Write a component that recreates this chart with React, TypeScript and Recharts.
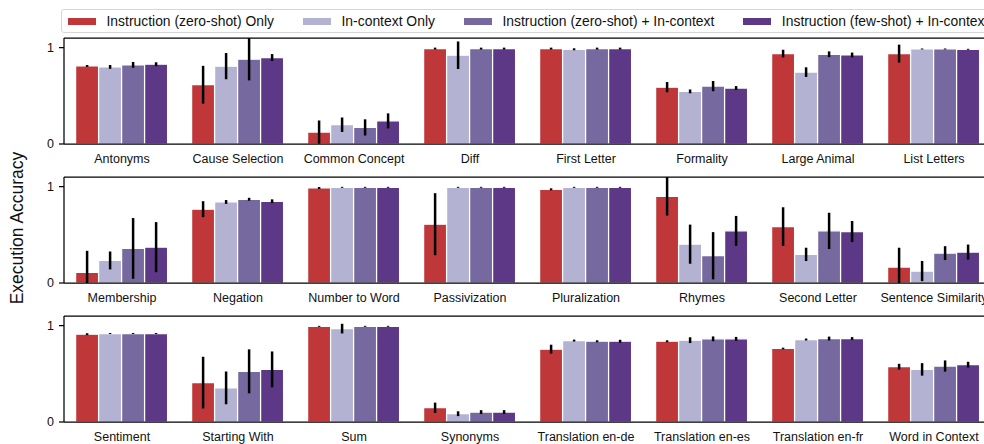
import React from "react";
import { BarChart, Bar, XAxis, YAxis, ErrorBar, ReferenceLine } from "recharts";

const tasks = [
  "Antonyms", "Cause Selection", "Common Concept", "Diff", "First Letter", "Formality", "Large Animal", "List Letters",
  "Membership", "Negation", "Number to Word", "Passivization", "Pluralization", "Rhymes", "Second Letter", "Sentence Similarity",
  "Sentiment", "Starting With", "Sum", "Synonyms", "Translation en-de", "Translation en-es", "Translation en-fr", "Word in Context",
];

const seriesNames = [
  "Instruction (zero-shot) Only",
  "In-context Only",
  "Instruction (zero-shot) + In-context",
  "Instruction (few-shot) + In-context",
];
const seriesColors = ["#C0373A", "#B3B2D3", "#76699F", "#5D3886"];

const instrOnly = [0.81, 0.615, 0.124, 0.99, 0.99, 0.59, 0.938, 0.938, 0.11, 0.766, 0.986, 0.61, 0.972, 0.9, 0.586, 0.166, 0.911, 0.409, 0.993, 0.148, 0.756, 0.838, 0.763, 0.574];
const instrOnlyErr = [0.01, 0.196, 0.12, 0.01, 0.01, 0.053, 0.04, 0.093, 0.224, 0.083, 0.01, 0.322, 0.01, 0.2, 0.2, 0.2, 0.01, 0.268, 0.005, 0.053, 0.046, 0.01, 0.008, 0.03];
const icOnly = [0.8, 0.808, 0.2, 0.921, 0.983, 0.546, 0.746, 0.986, 0.234, 0.841, 0.993, 0.993, 0.993, 0.403, 0.297, 0.124, 0.918, 0.354, 0.969, 0.086, 0.845, 0.849, 0.856, 0.546];
const icOnlyErr = [0.02, 0.136, 0.075, 0.143, 0.01, 0.02, 0.05, 0.005, 0.093, 0.02, 0.005, 0.005, 0.005, 0.203, 0.069, 0.105, 0.005, 0.17, 0.05, 0.025, 0.01, 0.03, 0.01, 0.065];
const zeroIc = [0.821, 0.88, 0.172, 0.99, 0.99, 0.601, 0.931, 0.986, 0.359, 0.869, 0.993, 0.993, 0.993, 0.283, 0.541, 0.31, 0.918, 0.526, 0.993, 0.103, 0.838, 0.863, 0.866, 0.581];
const zeroIcErr = [0.03, 0.22, 0.084, 0.01, 0.01, 0.053, 0.03, 0.005, 0.315, 0.015, 0.005, 0.005, 0.005, 0.245, 0.188, 0.072, 0.005, 0.228, 0.005, 0.02, 0.01, 0.025, 0.02, 0.058];
const fewIc = [0.828, 0.897, 0.24, 0.99, 0.99, 0.581, 0.924, 0.983, 0.372, 0.848, 0.993, 0.993, 0.993, 0.541, 0.534, 0.321, 0.918, 0.546, 0.993, 0.103, 0.838, 0.863, 0.866, 0.595];
const fewIcErr = [0.02, 0.036, 0.078, 0.01, 0.01, 0.02, 0.025, 0.005, 0.26, 0.02, 0.005, 0.005, 0.005, 0.155, 0.109, 0.078, 0.005, 0.186, 0.005, 0.02, 0.015, 0.02, 0.015, 0.03];

const yTicks = [0, 1];
const yDomain = [0, 1.1];
const yMax = 1.1;

const means = [instrOnly, icOnly, zeroIc, fewIc];
const errs = [instrOnlyErr, icOnlyErr, zeroIcErr, fewIcErr];

// error bars are clipped to the axis range, like the plot's own clipping
const allData = tasks.map((t, i) => {
  const row: any = { task: t };
  means.forEach((m, s) => {
    const v = m[i];
    const e = errs[s][i];
    row["s" + s] = v;
    row["e" + s] = [Math.min(e, v), Math.min(e, yMax - v)];
  });
  return row;
});

const rows = [allData.slice(0, 8), allData.slice(8, 16), allData.slice(16, 24)];
const rowTops = [36, 175, 314];

const FONT = "Arial, 'Liberation Sans', Helvetica, sans-serif";

function Row({ data, top }: { data: any[]; top: number }) {
  return (
    <div style={{ position: "absolute", left: 0, top }}>
      <BarChart
        width={1000}
        height={138}
        data={data}
        margin={{ top: 2, right: 8, left: 0, bottom: 0 }}
        barCategoryGap="10%"
        barGap={0}
      >
        <XAxis
          dataKey="task"
          tickLine={false}
          tickSize={0}
          tickMargin={10}
          height={30}
          axisLine={{ stroke: "#000", strokeWidth: 1.25 }}
          tick={{ fill: "#111", fontSize: 12.5, fontFamily: FONT }}
          interval={0}
        />
        <YAxis
          width={64}
          domain={yDomain}
          ticks={yTicks}
          allowDataOverflow
          tickSize={5}
          tickMargin={5}
          tickLine={{ stroke: "#000", strokeWidth: 1.25 }}
          axisLine={{ stroke: "#000", strokeWidth: 1.25 }}
          tick={{ fill: "#111", fontSize: 12.5, fontFamily: FONT }}
        />
        <ReferenceLine y={1.1} stroke="#000" strokeWidth={1.25} />
        {seriesNames.map((name, s) => (
          <Bar
            key={name}
            dataKey={"s" + s}
            name={name}
            fill={seriesColors[s]}
            stroke="#fff"
            strokeWidth={1.25}
            isAnimationActive={false}
          >
            <ErrorBar dataKey={"e" + s} width={0} stroke="#000" strokeWidth={2.5} direction="y" />
          </Bar>
        ))}
      </BarChart>
    </div>
  );
}

export default function App() {
  return (
    <div
      style={{
        position: "fixed",
        left: 0,
        top: 0,
        width: 984,
        height: 444,
        overflow: "hidden",
        background: "#fff",
        fontFamily: FONT,
      }}
    >
      {rows.map((d, i) => (
        <Row key={i} data={d} top={rowTops[i]} />
      ))}
      <div
        style={{
          position: "absolute",
          left: 61,
          top: 9,
          width: 1000,
          height: 24,
          border: "1px solid #d6d6d6",
          borderRadius: 3,
          background: "#fff",
          display: "flex",
          alignItems: "center",
          boxSizing: "border-box",
          paddingLeft: 6,
        }}
      >
        {seriesNames.map((n, s) => (
          <div key={n} style={{ display: "flex", alignItems: "center", marginRight: 29 }}>
            <div style={{ width: 28, height: 7, background: seriesColors[s], marginRight: 10.5 }} />
            <span style={{ fontSize: 13.9, color: "#111", whiteSpace: "nowrap" }}>{n}</span>
          </div>
        ))}
      </div>
      <div
        style={{
          position: "absolute",
          left: 17,
          top: 228,
          transform: "translate(-50%, -50%) rotate(-90deg)",
          fontSize: 17.5,
          color: "#111",
          whiteSpace: "nowrap",
        }}
      >
        Execution Accuracy
      </div>
    </div>
  );
}
